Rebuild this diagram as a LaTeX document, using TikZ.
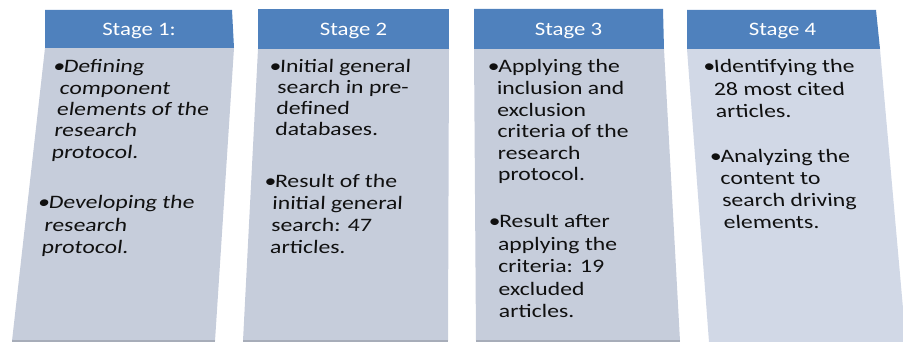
\documentclass[tikz,border=0pt]{standalone}
\usepackage{fontspec}
\setmainfont{Carlito}
\definecolor{hdr}{HTML}{4F81BD}
\definecolor{bodyc}{HTML}{C6CDDB}
\definecolor{bodyl}{HTML}{D1D8E6}
\definecolor{shadowc}{HTML}{A7ADB9}
\definecolor{txt}{HTML}{101010}
\newcommand{\bulpar}[2]{\parbox[t]{180pt}{\fontsize{19}{#1}\selectfont\setlength{\parindent}{0pt}\hangindent=7.2pt\hangafter=1\noindent\makebox[8.4pt][l]{\textbullet}#2}}
\tikzset{
  hdrbox/.style={fill=hdr, draw=none},
  bodybox/.style={fill=bodyc, draw=none},
  bodyboxl/.style={fill=bodyl, draw=none},
  shadowline/.style={draw=shadowc, line width=1.2pt},
  hdrtext/.style={text=white, font=\fontsize{19}{22}\selectfont, inner sep=0pt, anchor=base, xscale=1.2, transform shape},
  bultext/.style={text=txt, inner sep=0pt, anchor=base west, xscale=1.25, transform shape},
}
\begin{document}
\begin{tikzpicture}[x=1pt,y=-1pt]
\useasboundingbox (0,0) rectangle (903,342);
% column 1
\fill[bodybox] (45,48) -- (234,48) -- (215,341) -- (12,341) -- cycle;
\draw[shadowline] (12,341) -- (215,341);
\fill[hdrbox] (45,10) -- (232,10) -- (234,48) -- (45,48) -- cycle;
% column 2
\fill[bodybox] (258,49) -- (449,49) -- (448,341) -- (243,341) -- cycle;
\draw[shadowline] (243,341) -- (448,341);
\fill[hdrbox] (258,9) -- (449,9) -- (449,49) -- (258,49) -- cycle;
% column 3
\fill[bodybox] (474,49) -- (664,49) -- (680,341) -- (476,341) -- cycle;
\draw[shadowline] (476,341) -- (680,341);
\fill[hdrbox] (474,9) -- (663,9) -- (664,49) -- (474,49) -- cycle;
% column 4
\fill[bodyboxl] (687,49) -- (880,49) -- (906,342) -- (709,342) -- cycle;
\fill[hdrbox] (687,10) -- (876,10) -- (880,49) -- (687,49) -- cycle;
% headers
\node[hdrtext] (h1) at (139,35.5) {Stage 1:};
\node[hdrtext] (h2) at (353.5,35.5) {Stage 2};
\node[hdrtext] (h3) at (568.5,35.5) {Stage 3};
\node[hdrtext] (h4) at (782.5,35.5) {Stage 4};
% bullets
\node[bultext, xslant=0.1] (p11) at (52.5,73) {\bulpar{21.3pt}{Defining\\component\\elements of the\\research\\protocol.}};
\node[bultext, xslant=0.1] (p12) at (37.5,209) {\bulpar{22.5pt}{Developing the\\research\\protocol.}};
\node[bultext, xslant=0.04] (p21) at (269,73) {\bulpar{21pt}{Initial general\\search in pre-\\defined\\databases.}};
\node[bultext, xslant=0.04] (p22) at (264,188) {\bulpar{22pt}{Result of the\\initial general\\search: 47\\articles.}};
\node[bultext, xslant=-0.01] (p31) at (487.5,73) {\bulpar{21.6pt}{Applying the\\inclusion and\\exclusion\\criteria of the\\research\\protocol.}};
\node[bultext, xslant=-0.01] (p32) at (488.5,228) {\bulpar{22.5pt}{Result after\\applying the\\criteria: 19\\excluded\\articles.}};
\node[bultext, xslant=-0.06] (p41) at (703.5,73) {\bulpar{22.5pt}{Identifying the\\28 most cited\\articles.}};
\node[bultext, xslant=-0.06] (p42) at (710,163) {\bulpar{22pt}{Analyzing the\\content to\\search driving\\elements.}};
\end{tikzpicture}
\end{document}
